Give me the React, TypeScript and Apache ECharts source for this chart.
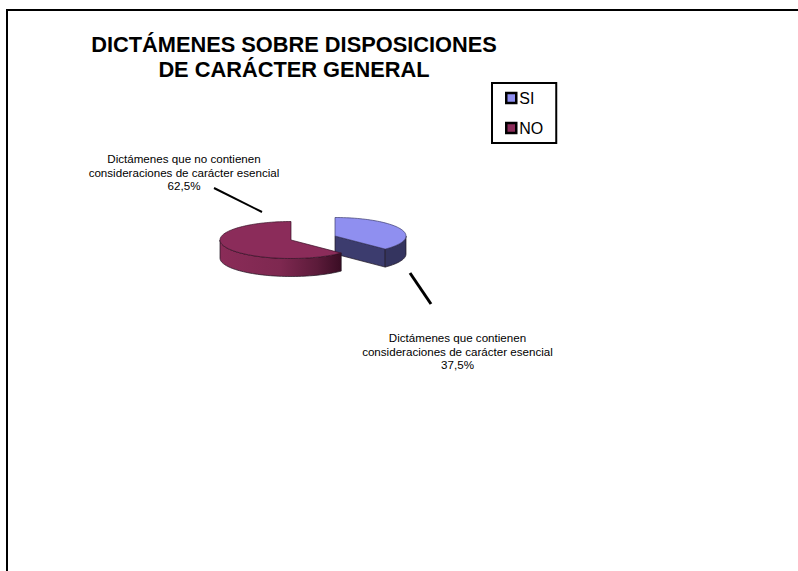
import React, { useEffect, useRef } from "react";
import * as echarts from "echarts";

const sliceNames = ["SI", "NO"];
const sliceValues = [37.5, 62.5];
const sliceTop = ["#8f8ff0", "#8b2c5a"];
const sliceSide = ["#3c3c6e", "#7e2850"];
const sliceSideDark = ["#34345f", "#3a0d24"];
const sliceCenters = [[335, 236], [291, 240]];
const titleText = "DICTÁMENES SOBRE DISPOSICIONES\nDE CARÁCTER GENERAL";
const labelTexts = [
  "Dictámenes que contienen\nconsideraciones de carácter esencial\n37,5%",
  "Dictámenes que no contienen\nconsideraciones de carácter esencial\n62,5%",
];
const labelPositions = [[457.5, 331], [184, 152]];
const RX = 71, RY = 18.5, DEPTH = 18;
const total = sliceValues.reduce((a, b) => a + b, 0);

function arcPts(cx: number, cy: number, a0: number, a1: number, dy = 0) {
  const pts: number[][] = [];
  const n = Math.max(2, Math.ceil(Math.abs(a1 - a0) / 0.04));
  for (let i = 0; i <= n; i++) {
    const a = a0 + ((a1 - a0) * i) / n;
    pts.push([cx + RX * Math.sin(a), cy - RY * Math.cos(a) + dy]);
  }
  return pts;
}

function makeRender(idx: number) {
  let start = 0;
  for (let i = 0; i < idx; i++) start += (sliceValues[i] / total) * Math.PI * 2;
  const end = start + (sliceValues[idx] / total) * Math.PI * 2;
  const [cx, cy] = sliceCenters[idx];
  return () => {
    const children: any[] = [];
    const edge = { stroke: "#1c1420", lineWidth: 0.7 };
    const vs = Math.max(start, Math.PI / 2);
    const ve = Math.min(end, (3 * Math.PI) / 2);
    if (idx === 0) {
      // radial cut wall, facing the viewer
      const e = arcPts(cx, cy, end, end)[0];
      children.push({
        type: "polygon",
        shape: { points: [[cx, cy], e, [e[0], e[1] + DEPTH], [cx, cy + DEPTH]] },
        style: { fill: sliceSide[idx], ...edge },
      });
    }
    if (ve > vs) {
      const top = arcPts(cx, cy, vs, ve);
      const bot = arcPts(cx, cy, vs, ve, DEPTH).reverse();
      const fill =
        idx === 1
          ? new echarts.graphic.LinearGradient(0, 0, 1, 0, [
              { offset: 0, color: "#8a2c58" },
              { offset: 0.5, color: "#7e2850" },
              { offset: 0.8, color: "#5c1b3a" },
              { offset: 1, color: sliceSideDark[idx] },
            ])
          : sliceSideDark[idx];
      children.push({
        type: "polygon",
        shape: { points: top.concat(bot) },
        style: { fill, ...edge },
      });
    }
    children.push({
      type: "polygon",
      shape: { points: [[cx, cy], ...arcPts(cx, cy, start, end)] },
      style: { fill: sliceTop[idx], stroke: idx === 0 ? "#3c3c6e" : "#3a1026", lineWidth: 0.7 },
    });
    return { type: "group", children };
  };
}

export default function App() {
  const ref = useRef<HTMLDivElement>(null);
  useEffect(() => {
    const chart = echarts.init(ref.current!, undefined, { renderer: "svg" });
    const font = "'Liberation Sans', Arial, sans-serif";
    chart.setOption({
      animation: false,
      backgroundColor: "#ffffff",
      title: {
        text: titleText,
        left: 289,
        top: 27,
        textAlign: "center",
        textStyle: { fontFamily: font, fontSize: 21.8, fontWeight: "bold", color: "#000", lineHeight: 25 },
      },
      legend: {
        orient: "vertical",
        left: 492,
        top: 83,
        padding: [6, 13, 6, 13],
        itemGap: 12,
        itemWidth: 10,
        itemHeight: 10,
        itemStyle: { borderColor: "#000", borderWidth: 2.5 },
        borderColor: "#000",
        borderWidth: 2,
        selectedMode: false,
        data: sliceNames.map((name) => ({ name, icon: "rect" })),
        textStyle: { fontFamily: font, fontSize: 16, color: "#000", padding: [0, 0, 0, -2], lineHeight: 18 },
      },
      series: sliceNames.map((name, i) => ({
        type: "custom",
        name,
        coordinateSystem: "none",
        silent: true,
        itemStyle: { color: sliceTop[i] },
        data: [sliceValues[i]],
        renderItem: makeRender(i),
      })),
      graphic: [
        { type: "line", shape: { x1: 7, y1: 10, x2: 7, y2: 571 }, style: { stroke: "#000", lineWidth: 2 } },
        { type: "line", shape: { x1: 6, y1: 10, x2: 798, y2: 10 }, style: { stroke: "#000", lineWidth: 2 } },
        { type: "line", shape: { x1: 214, y1: 188, x2: 262, y2: 212 }, style: { stroke: "#000", lineWidth: 2 } },
        { type: "line", shape: { x1: 410, y1: 273, x2: 431, y2: 304 }, style: { stroke: "#000", lineWidth: 3 } },
        ...labelTexts.map((text, i) => ({
          type: "text",
          x: labelPositions[i][0],
          y: labelPositions[i][1],
          style: {
            text,
            fill: "#000",
            font: `11.6px ${font}`,
            lineHeight: 13.5,
            align: "center",
            verticalAlign: "top",
          },
        })),
      ],
    });
    return () => chart.dispose();
  }, []);
  return <div ref={ref} style={{ position: "fixed", left: 0, top: 0, width: 798, height: 571 }} />;
}
